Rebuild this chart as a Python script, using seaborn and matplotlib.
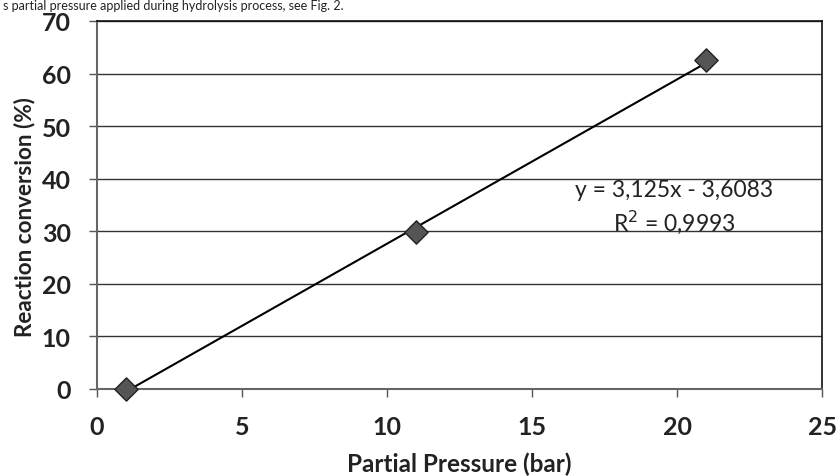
import matplotlib
matplotlib.use("Agg")
import matplotlib.pyplot as plt
import seaborn as sns
import numpy as np
import pandas as pd

pressure = [1, 11, 21]
conversion = [0, 29.8, 62.5]
x_ticks = [0, 5, 10, 15, 20, 25]
y_ticks = [0, 10, 20, 30, 40, 50, 60, 70]
x_label = "Partial Pressure (bar)"
y_label = "Reaction conversion (%)"
caption = "s partial pressure applied during hydrolysis process, see Fig. 2."

sns.set_theme(style="white")
plt.rcParams['font.family'] = ['Lato', 'DejaVu Sans']

df = pd.DataFrame({"p": pressure, "c": conversion})
slope, intercept = np.polyfit(df["p"], df["c"], 1)
pred = slope * df["p"] + intercept
r2 = 1 - ((df["c"] - pred) ** 2).sum() / ((df["c"] - df["c"].mean()) ** 2).sum()

fig = plt.figure(figsize=(8.38, 4.77), dpi=100)
ax = fig.add_axes([0.1158, 0.1824, 0.8652, 0.7715])

for yv in y_ticks[1:]:
    ax.axhline(yv, color="#333333", lw=1.0, zorder=1)

sns.regplot(data=df, x="p", y="c", ci=None, truncate=True, ax=ax, marker="D",
            scatter_kws=dict(s=140, color="#555555", edgecolor="#222222",
                             linewidths=1.0, alpha=1, zorder=4, clip_on=False),
            line_kws=dict(color="black", lw=1.5, zorder=3))

ax.set_xlim(0, 25)
ax.set_ylim(0, 70)
ax.set_xticks(x_ticks)
ax.set_yticks(y_ticks)
ax.set_xticklabels([str(v) for v in x_ticks], fontsize=18, fontweight="bold", color="#222222")
ax.set_yticklabels([str(v) for v in y_ticks], fontsize=18, fontweight="bold", color="#222222")
ax.tick_params(axis="x", direction="out", length=6, width=1, color="#555555", pad=13, bottom=True)
ax.tick_params(axis="y", direction="out", length=6, width=1, color="#555555", pad=13, left=True)
ax.set_xlabel(x_label, fontsize=17.5, fontweight="bold", color="#222222")
ax.set_ylabel(y_label, fontsize=16.2, fontweight="bold", color="#222222")
ax.xaxis.set_label_coords(0.4993, -0.170)
ax.yaxis.set_label_coords(-0.0855, 0.47)

for side in ["left", "bottom"]:
    ax.spines[side].set_color("#666666")
    ax.spines[side].set_linewidth(1.5)
for side in ["top", "right"]:
    ax.spines[side].set_color("#111111")
    ax.spines[side].set_linewidth(1.2)
    ax.spines[side].set_visible(True)

eq = f"y = {slope:.3f}x - {abs(intercept):.4f}".replace(".", ",")
ax.text(19.9, 37.9, eq, ha="center", va="center", fontsize=16.5, color="#222222")
ax.text(19.9, 32.0, f"R$^2$ = {r2:.4f}".replace(".", ","), ha="center", va="center",
        fontsize=16.5, color="#222222")

fig.text(0.003, 0.999, caption, ha="left", va="top", fontsize=9, color="#222222")

fig.savefig("out.png", dpi=100)
